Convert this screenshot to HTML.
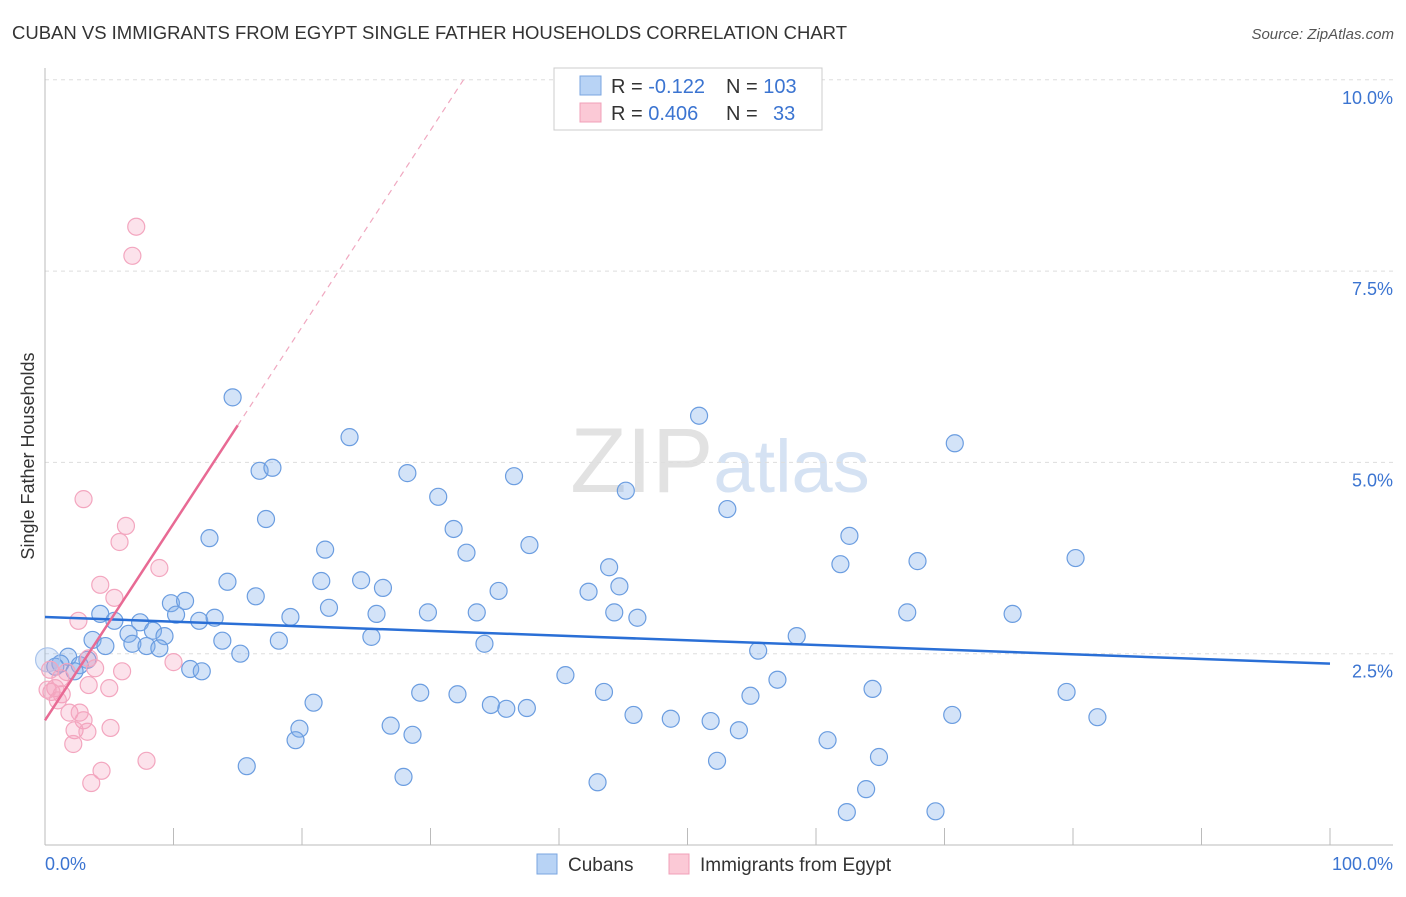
<!DOCTYPE html>
<html><head><meta charset="utf-8"><style>
body{margin:0;background:#fff;font-family:"Liberation Sans",sans-serif;}
svg text{font-family:"Liberation Sans",sans-serif;}
</style></head><body>
<svg id="chart" width="1406" height="892" xmlns="http://www.w3.org/2000/svg">
<text x="12" y="39" font-size="18" fill="#333" textLength="835" lengthAdjust="spacingAndGlyphs">CUBAN VS IMMIGRANTS FROM EGYPT SINGLE FATHER HOUSEHOLDS CORRELATION CHART</text>
<text x="1394" y="39" font-size="15" fill="#555" text-anchor="end" font-style="italic">Source: ZipAtlas.com</text>
<text x="720" y="492" font-size="92" text-anchor="middle" font-family="Liberation Serif"><tspan fill="#e2e2e2">ZIP</tspan><tspan fill="#d5e2f3" font-family="Liberation Sans" font-size="74">atlas</tspan></text>
<g id="grid"></g>
<g id="axes"></g>
<g id="pts"></g>
<g id="trends"></g>
<text transform="translate(34,456) rotate(-90)" font-size="18" fill="#333" text-anchor="middle">Single Father Households</text>
<g>
<rect x="554" y="68" width="268" height="62" fill="#fff" stroke="#ccc"/>
<rect x="580" y="76" width="21" height="19" fill="#b8d3f5" stroke="#7aa6e0"/>
<text x="611" y="93" font-size="20" fill="#333">R = <tspan fill="#3b74d1">-0.122</tspan></text>
<text x="726" y="93" font-size="20" fill="#333">N = <tspan fill="#3b74d1">103</tspan></text>
<rect x="580" y="103" width="21" height="19" fill="#fbc9d6" stroke="#f0a0b8"/>
<text x="611" y="120" font-size="20" fill="#333">R = <tspan fill="#3b74d1">0.406</tspan></text>
<text x="726" y="120" font-size="20" fill="#333">N =</text>
<text x="773" y="120" font-size="20" fill="#3b74d1">33</text>
</g>
<g>
<rect x="537" y="854" width="20" height="20" fill="#b8d3f5" stroke="#7aa6e0"/>
<text x="568" y="871" font-size="19" fill="#333">Cubans</text>
<rect x="669" y="854" width="20" height="20" fill="#fbc9d6" stroke="#f0a0b8"/>
<text x="700" y="871" font-size="19" fill="#333">Immigrants from Egypt</text>
</g>
</svg>
<script>
const blueX=[14.6,50.9,23.7,70.8,16.7,17.7,28.2,36.5,30.6,45.2,53.1,17.2,12.8,31.8,62.6,21.8,32.8,37.7,61.9,67.9,80.2,14.2,21.5,24.6,26.3,43.9,44.7,16.4,42.3,35.3,9.8,10.9,19.1,22.1,25.8,29.8,33.6,44.3,46.1,67.1,75.3,4.3,5.4,7.4,12.0,13.2,10.2,3.7,6.5,8.4,9.3,13.8,18.2,25.4,34.2,58.5,4.7,6.8,7.9,8.9,15.2,55.5,1.8,3.3,2.7,1.2,0.8,2.3,11.3,12.2,0.2,40.5,57.0,29.2,32.1,43.5,54.9,64.4,79.5,20.9,34.7,35.9,37.5,45.8,48.7,51.8,70.6,81.9,26.9,19.8,28.6,19.5,54.0,60.9,64.9,52.3,15.7,27.9,43.0,63.9,62.4,69.3];
const blueY=[5.85,5.61,5.33,5.25,4.89,4.93,4.86,4.82,4.55,4.63,4.39,4.26,4.01,4.13,4.04,3.86,3.82,3.92,3.67,3.71,3.75,3.44,3.45,3.46,3.36,3.63,3.38,3.25,3.31,3.32,3.16,3.19,2.98,3.10,3.02,3.04,3.04,3.04,2.97,3.04,3.02,3.02,2.93,2.91,2.93,2.97,3.01,2.68,2.76,2.80,2.73,2.67,2.67,2.72,2.63,2.73,2.60,2.63,2.60,2.57,2.50,2.54,2.46,2.42,2.35,2.37,2.33,2.27,2.30,2.27,2.42,2.22,2.16,1.99,1.97,2.00,1.95,2.04,2.00,1.86,1.83,1.78,1.79,1.70,1.65,1.62,1.70,1.67,1.56,1.52,1.44,1.37,1.50,1.37,1.15,1.10,1.03,0.89,0.82,0.73,0.43,0.44];
const pinkX=[7.1,6.8,3.0,6.3,5.8,8.9,4.3,5.4,2.6,3.4,10.0,3.9,6.0,1.2,1.7,0.8,0.5,5.0,3.4,1.3,1.0,1.9,2.7,3.0,2.3,3.3,5.1,2.2,4.4,7.9,3.6,0.4,0.2];
const pinkY=[8.08,7.70,4.52,4.17,3.96,3.62,3.40,3.23,2.93,2.44,2.39,2.31,2.27,2.18,2.26,2.05,2.00,2.05,2.09,1.97,1.89,1.73,1.73,1.63,1.50,1.48,1.53,1.32,0.97,1.10,0.81,2.29,2.03];
const blueTrend=[2.98,2.37];
const pinkTrend=[1.63,0.257];
const yTicks=[2.5,5.0,7.5,10.0];
const yTickLabels=["2.5%","5.0%","7.5%","10.0%"];
const NS="http://www.w3.org/2000/svg";
const X=v=>45+v*12.85, Y=v=>845-v*76.52;
function mk(t,a,p){const e=document.createElementNS(NS,t);for(const k in a)e.setAttribute(k,a[k]);document.getElementById(p).appendChild(e);return e;}
yTicks.forEach((t,i)=>{
 const l=mk('line',{x1:45,x2:1393,y1:Y(t),y2:Y(t),stroke:'#ddd','stroke-dasharray':'4,4'},'grid');
 
 
 const tx=mk('text',{x:1393,y:Y(t)+24,'font-size':18,fill:'#3b74d1','text-anchor':'end'},'grid');
 tx.textContent=yTickLabels[i];
 
 
});
let a=mk('line',{x1:45,x2:45,y1:68,y2:845,stroke:'#bbb'},'axes');


a=mk('line',{x1:45,x2:1393,y1:845,y2:845,stroke:'#bbb'},'axes');


for(let i=1;i<=10;i++){const t=mk('line',{x1:X(i*10),x2:X(i*10),y1:828,y2:845,stroke:'#bbb'},'axes');
 
 }
let xl=mk('text',{x:45,y:870,'font-size':18,fill:'#3b74d1'},'axes');xl.textContent='0.0%';


xl=mk('text',{x:1393,y:870,'font-size':18,fill:'#3b74d1','text-anchor':'end'},'axes');xl.textContent='100.0%';


blueX.forEach((x,i)=>{const big=x<0.5;const c=mk('circle',{cx:X(x),cy:Y(blueY[i]),r:big?12:8.5,fill:big?'rgba(130,175,235,0.25)':'rgba(130,175,235,0.35)',stroke:big?'#a9c4ec':'#6b9de0','stroke-width':1.2},'pts');
 
 });
pinkX.forEach((x,i)=>{const c=mk('circle',{cx:X(x),cy:Y(pinkY[i]),r:8.5,fill:'rgba(245,160,190,0.3)',stroke:'#f3a6bf','stroke-width':1.2},'pts');
 
 });
let t=mk('line',{x1:X(0),y1:Y(blueTrend[0]),x2:X(100),y2:Y(blueTrend[1]),stroke:'#2a6fd6','stroke-width':2.5},'trends');


const pe=15, pd=(10-pinkTrend[0])/pinkTrend[1];
t=mk('line',{x1:X(0),y1:Y(pinkTrend[0]),x2:X(pe),y2:Y(pinkTrend[0]+pinkTrend[1]*pe),stroke:'#e86a94','stroke-width':2.5},'trends');


t=mk('line',{x1:X(pe),y1:Y(pinkTrend[0]+pinkTrend[1]*pe),x2:X(pd),y2:Y(10),stroke:'#f0a8c0','stroke-width':1.2,'stroke-dasharray':'6,5'},'trends');


</script>
</body></html>
